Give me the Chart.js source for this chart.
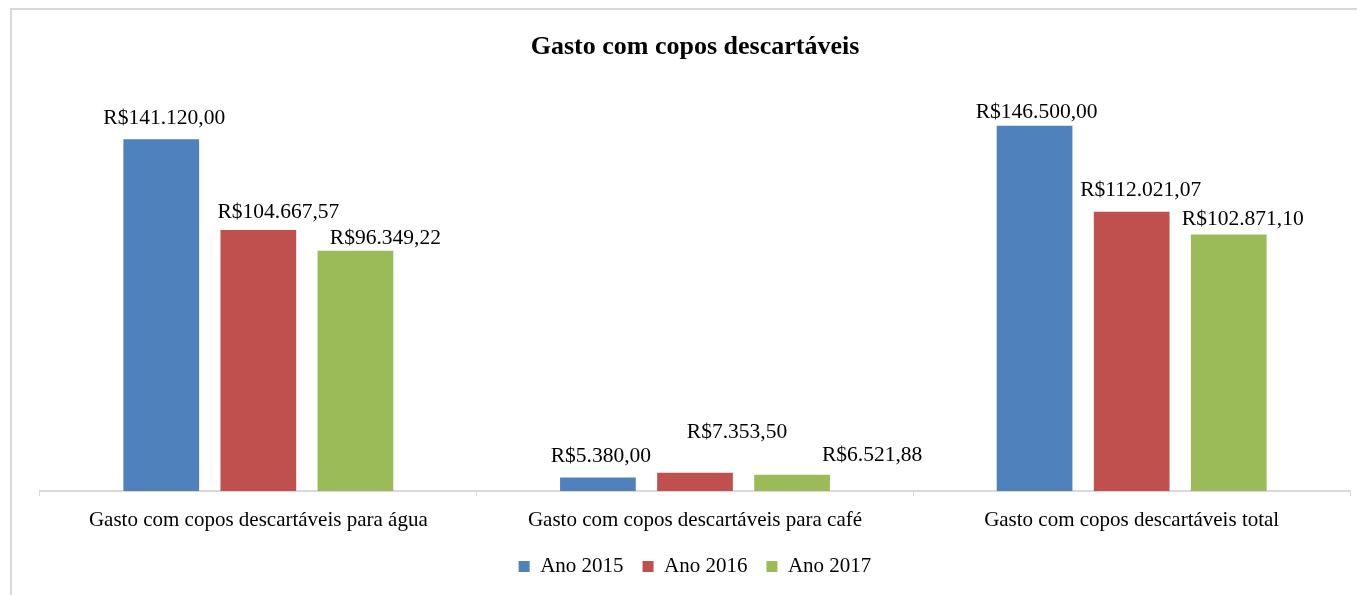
<!DOCTYPE html>
<html>
<head>
<meta charset="utf-8">
<script src="https://cdn.jsdelivr.net/npm/chart.js@4.4.1/dist/chart.umd.min.js"></script>
<style>
  html, body { margin: 0; padding: 0; background: #fff; }
  #wrap { position: relative; width: 1357px; height: 595px; overflow: hidden; }
  #frame { position: absolute; left: 10px; top: 8px; width: 1400px; height: 700px;
           border-left: 2px solid #d9d9d9; border-top: 2px solid #d9d9d9; box-sizing: border-box; }
  canvas { position: absolute; left: 0; top: 0; }
</style>
</head>
<body>
<div id="wrap">
  <div id="frame"></div>
  <canvas id="chartCopos" width="1357" height="595"></canvas>
</div>
<script>
// categorias e séries
const categorias = [
  "Gasto com copos descartáveis para água",
  "Gasto com copos descartáveis para café",
  "Gasto com copos descartáveis total"
];
const anos = ["Ano 2015", "Ano 2016", "Ano 2017"];
const ano2015 = [141120.00, 5380.00, 146500.00];
const ano2016 = [104667.57, 7353.50, 112021.07];
const ano2017 = [96349.22, 6521.88, 102871.10];

const cores = { azul: "#4f81bd", vermelho: "#c0504d", verde: "#9bbb59", eixo: "#d9d9d9" };
const serif = "'Liberation Serif', 'Times New Roman', serif";

// deslocamento dos rótulos por série: [dx, distância acima da barra]
const labelNudge = [
  [[3, 21], [3, 21], [2, 13]],
  [[20, 18], [42, 40], [9, 21]],
  [[30, 12], [80, 19], [14, 15]]
];

function brl(v) {
  const [int, dec] = v.toFixed(2).split(".");
  return "R$" + int.replace(/\B(?=(\d{3})+(?!\d))/g, ".") + "," + dec;
}

const valueLabels = {
  id: "valueLabels",
  afterDatasetsDraw(chart) {
    const ctx = chart.ctx;
    ctx.save();
    ctx.font = "21.5px " + serif;
    ctx.fillStyle = "#000";
    ctx.textAlign = "center";
    ctx.textBaseline = "middle";
    chart.data.datasets.forEach((ds, di) => {
      chart.getDatasetMeta(di).data.forEach((bar, i) => {
        const n = labelNudge[di][i];
        ctx.fillText(brl(ds.data[i]), bar.x + n[0], bar.y - n[1]);
      });
    });
    ctx.restore();
  }
};

new Chart(document.getElementById("chartCopos"), {
  type: "bar",
  data: {
    labels: categorias,
    datasets: [
      { label: anos[0], data: ano2015, backgroundColor: cores.azul },
      { label: anos[1], data: ano2016, backgroundColor: cores.vermelho },
      { label: anos[2], data: ano2017, backgroundColor: cores.verde }
    ]
  },
  options: {
    responsive: false,
    animation: false,
    categoryPercentage: 0.667,
    barPercentage: 0.78,
    layout: { padding: { left: 40, right: 7, top: 0, bottom: 8 } },
    plugins: {
      title: {
        display: true,
        text: "Gasto com copos descartáveis",
        color: "#000",
        font: { family: serif, size: 26, weight: "bold", lineHeight: 1.2 },
        padding: { top: 32, bottom: 29 }
      },
      legend: {
        position: "bottom",
        labels: {
          color: "#000",
          font: { family: serif, size: 21 },
          boxWidth: 11,
          boxHeight: 11,
          padding: 19
        }
      },
      tooltip: { enabled: false }
    },
    scales: {
      x: {
        afterFit: (scale) => { scale.height = 46; },
        grid: { display: true, drawOnChartArea: false, color: cores.eixo, tickLength: 5, offset: true },
        border: { color: cores.eixo, width: 2 },
        ticks: { color: "#000", font: { family: serif, size: 21 }, padding: 12, maxRotation: 0 }
      },
      y: {
        display: false,
        min: 0,
        max: 160000
      }
    }
  },
  plugins: [valueLabels]
});
</script>
</body>
</html>
